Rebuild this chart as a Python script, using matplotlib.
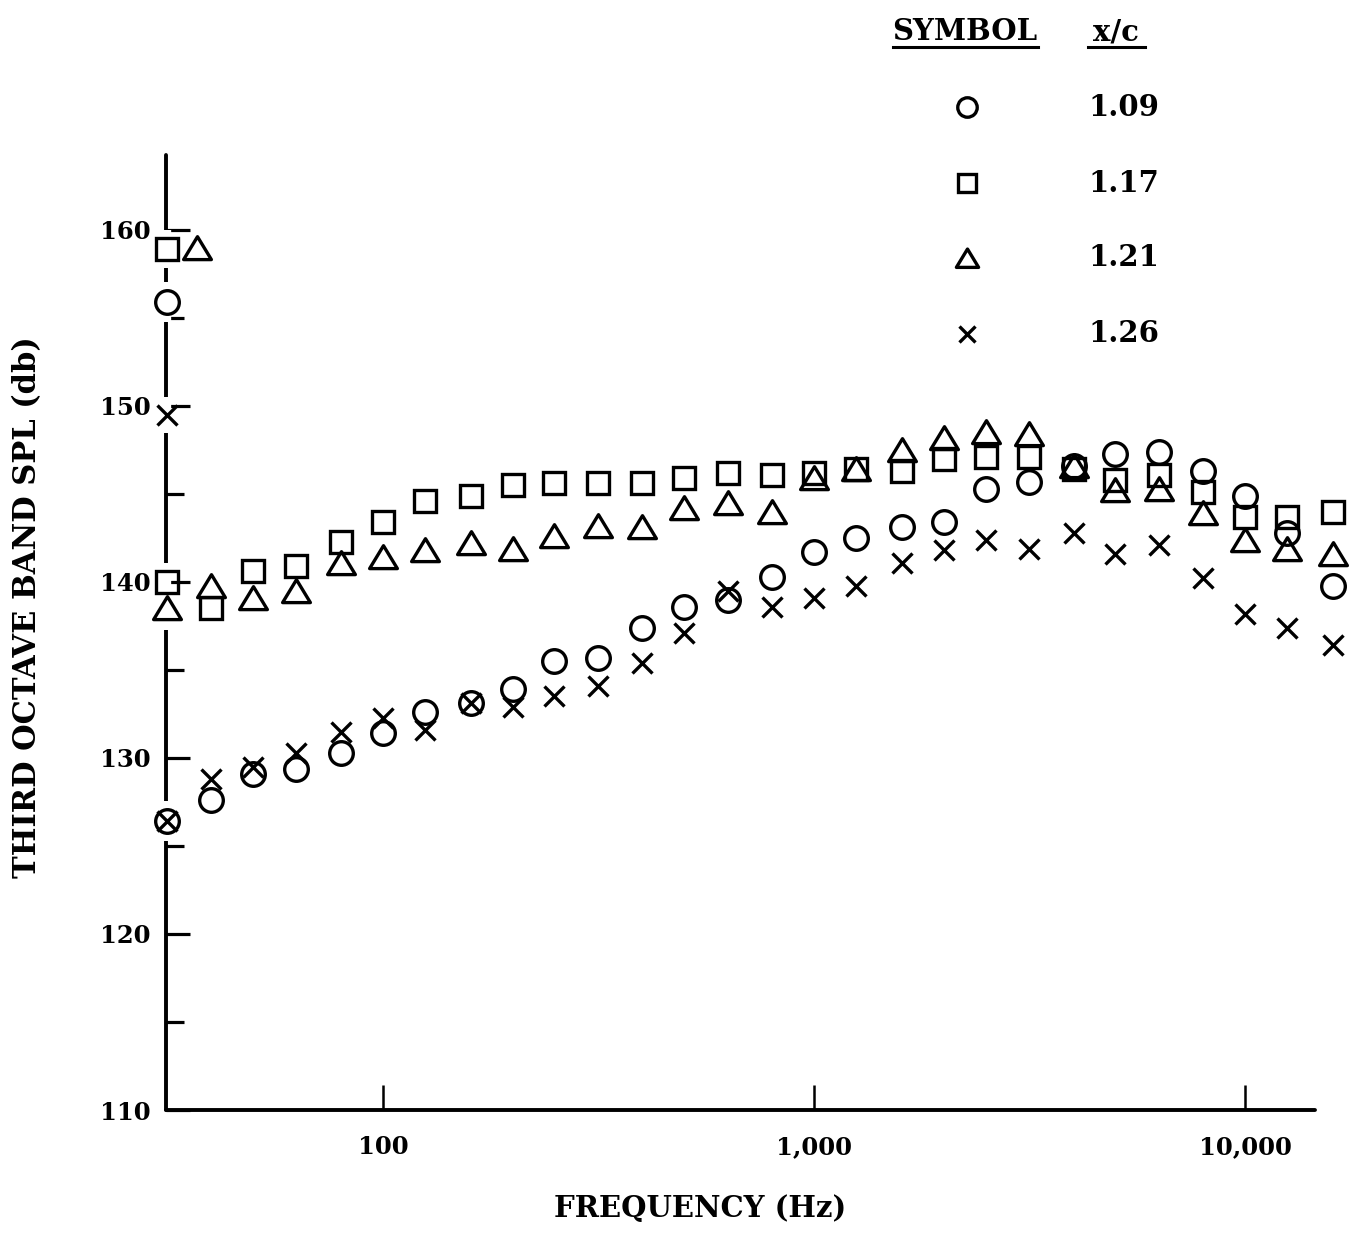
import matplotlib
matplotlib.use("Agg")
import matplotlib.pyplot as plt
from matplotlib.lines import Line2D
from matplotlib.path import Path
import numpy as np

# ---------------- data ----------------
freq = [31.5, 40, 50, 63, 80, 100, 125, 160, 200, 250, 315, 400, 500, 630, 800,
        1000, 1250, 1600, 2000, 2500, 3150, 4000, 5000, 6300, 8000, 10000, 12500, 16000]

spl_109 = [126.4, 127.6, 129.1, 129.4, 130.3, 131.4, 132.6, 133.1, 133.9, 135.5, 135.7,
           137.4, 138.6, 139.0, 140.3, 141.7, 142.5, 143.1, 143.4, 145.3, 145.7,
           146.6, 147.3, 147.4, 146.3, 144.9, 142.8, 139.8]
spl_117 = [140.0, 138.5, 140.6, 140.9, 142.3, 143.4, 144.6, 144.9, 145.5, 145.6, 145.6,
           145.6, 145.9, 146.2, 146.1, 146.2, 146.4, 146.3, 147.0, 147.1, 147.1,
           146.4, 145.8, 146.1, 145.1, 143.7, 143.7, 144.0]
spl_121 = [138.5, 139.8, 139.1, 139.5, 141.1, 141.4, 141.8, 142.2, 141.9, 142.6, 143.2,
           143.1, 144.2, 144.5, 144.0, 145.9, 146.4, 147.5, 148.2, 148.5, 148.4,
           146.6, 145.2, 145.3, 143.9, 142.4, 141.9, 141.6]
spl_126 = [126.4, 128.8, 129.5, 130.3, 131.5, 132.3, 131.6, 133.1, 132.9, 133.5, 134.1,
           135.4, 137.1, 139.5, 138.6, 139.1, 139.8, 141.1, 141.8, 142.4, 141.9,
           142.8, 141.6, 142.1, 140.2, 138.2, 137.4, 136.4]

# overall levels plotted at the left axis
overall_freq = [31.5, 31.5, 37.0, 31.5]
overall_spl = [155.9, 158.9, 159.0, 149.5]

xc_labels = ["1.09", "1.17", "1.21", "1.26"]
yticks_major = [110, 120, 130, 140, 150, 160]
yticks_minor = [115, 125, 135, 145, 155]
xticks = [100, 1000, 10000]
xtick_labels = ["100", "1,000", "10,000"]

# ---------------- style ----------------
W, H = 1361, 1240
plt.rcParams['font.family'] = ['DejaVu Serif']
plt.rcParams['font.weight'] = 'bold'

tri = Path([(-1, -0.8), (1, -0.8), (0, 0.85), (-1, -0.8)],
           [Path.MOVETO, Path.LINETO, Path.LINETO, Path.CLOSEPOLY])
markers = ['o', 's', tri, 'x']
msizes = [17, 16, 20, 14]
series = [spl_109, spl_117, spl_121, spl_126]

fig = plt.figure(figsize=(W / 100, H / 100), dpi=100)
ax = fig.add_axes([166 / W, 1 - 1110 / H, (1315 - 166) / W, (1110 - 155) / H])
ax.set_xscale('log')
ax.set_xlim(31.38, 14530)
ax.set_ylim(110, 164.26)

for s in ['top', 'right']:
    ax.spines[s].set_visible(False)
for s in ['left', 'bottom']:
    ax.spines[s].set_linewidth(2.8)
    ax.spines[s].set_capstyle('round')

ax.set_yticks(yticks_major)
ax.set_yticks(yticks_minor, minor=True)
ax.set_yticklabels([str(v) for v in yticks_major])
ax.set_xticks(xticks)
ax.set_xticklabels(xtick_labels)
ax.xaxis.set_minor_locator(matplotlib.ticker.NullLocator())
ax.tick_params(axis='y', which='major', direction='in', length=17, width=2.3,
               labelsize=17.5, pad=11)
ax.tick_params(axis='y', which='minor', direction='in', length=13, width=2.3)
ax.tick_params(axis='x', which='major', direction='in', length=18, width=1.8,
               labelsize=17.5, pad=18)
for lab in ax.get_xticklabels() + ax.get_yticklabels():
    lab.set_fontweight('bold')

# white bars breaking the left axis line where points sit on it
first_f = [freq[0]] * 4
first_v = [s[0] for s in series]
for f, v, ms in zip(first_f + overall_freq, first_v + overall_spl, msizes + msizes):
    ax.plot([f], [v], linestyle='none', marker='|', ms=ms + 12, mew=6,
            mec='white', zorder=3, clip_on=False)

for vals, m, ms in zip(series, markers, msizes):
    ax.plot(freq, vals, linestyle='none', marker=m, ms=ms, mfc='none',
            mec='black', mew=2.4, zorder=4, clip_on=False)
for f, v, m, ms in zip(overall_freq, overall_spl, markers, msizes):
    ax.plot([f], [v], linestyle='none', marker=m, ms=ms, mfc='none',
            mec='black', mew=2.4, zorder=4, clip_on=False)

# axis labels
fig.text(700 / W, 1 - 1208 / H, "FREQUENCY (Hz)", ha='center', va='center',
         fontsize=21, fontweight='bold')
fig.text(28 / W, 1 - 607 / H, "THIRD OCTAVE BAND SPL (db)", ha='center', va='center',
         rotation=90, fontsize=22, fontweight='bold')

# legend table
fig.text(965 / W, 1 - 32 / H, "SYMBOL", ha='center', va='center', fontsize=21,
         fontweight='bold')
fig.text(1116 / W, 1 - 32 / H, "x/c", ha='center', va='center', fontsize=21,
         fontweight='bold')
fig.add_artist(Line2D([893 / W, 1038 / W], [1 - 47 / H, 1 - 47 / H],
                      transform=fig.transFigure, color='black', lw=2.2))
fig.add_artist(Line2D([1088 / W, 1145 / W], [1 - 47 / H, 1 - 47 / H],
                      transform=fig.transFigure, color='black', lw=2.2))
leg_y = [107, 183, 258, 334]
leg_ms = [14, 13, 16, 11]
for yy, m, ms, lab in zip(leg_y, markers, leg_ms, xc_labels):
    fig.add_artist(Line2D([967 / W], [1 - yy / H], transform=fig.transFigure,
                          linestyle='none', marker=m, ms=ms, mfc='none',
                          mec='black', mew=2.4))
    fig.text(1088 / W, 1 - yy / H, lab, ha='left', va='center', fontsize=21,
             fontweight='bold')

fig.savefig("out.png", dpi=100, facecolor='white')
